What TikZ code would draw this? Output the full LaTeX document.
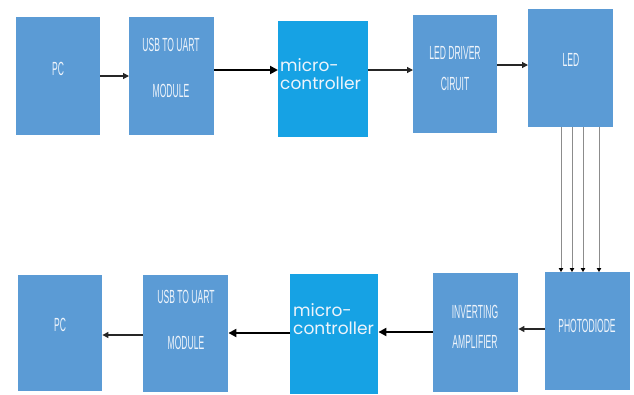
\documentclass[tikz,border=0pt]{standalone}
\usepackage{fontspec}
\usetikzlibrary{arrows.meta}
\newfontfamily\condfont[FakeStretch=0.45]{Liberation Sans}
\newfontfamily\mcfont{Poppins}
\definecolor{boxblue}{HTML}{5B9BD5}
\definecolor{mcblue}{HTML}{16A2E4}
\definecolor{txtwhite}{HTML}{EEF4FB}
\begin{document}
\begin{tikzpicture}[x=1pt,y=-1pt,
  blk/.style={fill=boxblue, draw=none, inner sep=0pt, anchor=north west},
  mcblk/.style={fill=mcblue, draw=none, inner sep=0pt, anchor=north west},
  lbl/.style={text=txtwhite, inner sep=0pt, font=\condfont\fontsize{19}{19}\selectfont},
  mclbl/.style={text=txtwhite, inner sep=0pt, anchor=west, align=left, font=\mcfont\fontsize{17}{18}\selectfont},
  thinarr/.style={draw=black!85, line width=1.2pt, -{Triangle[length=6pt,width=6pt]}},
  thickarr/.style={draw=black, line width=2.4pt, -{Triangle[length=8pt,width=8pt]}},
  beam/.style={draw=black!45, line width=0.9pt, -{Triangle[length=4pt,width=4.5pt,color=black]}}
]
\useasboundingbox (0,0) rectangle (634,394);
% top row boxes
\node[blk, minimum width=84pt, minimum height=118pt] (pc1) at (16,17) {};
\node[blk, minimum width=85pt, minimum height=118pt] (usb1) at (129,17) {};
\node[mcblk, minimum width=90pt, minimum height=116pt] (mc1) at (278,21) {};
\node[blk, minimum width=84pt, minimum height=118pt] (drv) at (413,15) {};
\node[blk, minimum width=85pt, minimum height=118pt] (led) at (528,9) {};
% bottom row boxes
\node[blk, minimum width=84pt, minimum height=116pt] (pc2) at (18,275) {};
\node[blk, minimum width=85pt, minimum height=117pt] (usb2) at (143,275) {};
\node[mcblk, minimum width=88pt, minimum height=120pt] (mc2) at (290,274) {};
\node[blk, minimum width=85pt, minimum height=119pt] (inv) at (433,273) {};
\node[blk, minimum width=85pt, minimum height=118pt] (pd) at (545,272) {};
% labels
\node[lbl] (tpc1) at (58,69) {PC};
\node[lbl] (tusb1a) at (171,45) {USB TO UART};
\node[lbl] (tusb1b) at (171,91) {MODULE};
\node[mclbl] (tmc1) at (280,74) {micro-\\controller};
\node[lbl] (tdrva) at (455,53) {LED DRIVER};
\node[lbl] (tdrvb) at (455,84) {CIRUIT};
\node[lbl] (tled) at (571,60) {LED};
\node[lbl] (tpc2) at (60,325) {PC};
\node[lbl] (tusb2a) at (186,297) {USB TO UART};
\node[lbl] (tusb2b) at (186,343) {MODULE};
\node[mclbl] (tmc2) at (293,319) {micro-\\controller};
\node[lbl] (tinva) at (475,312) {INVERTING};
\node[lbl] (tinvb) at (475,342) {AMPLIFIER};
\node[lbl] (tpd) at (587,326) {PHOTODIODE};
% top arrows
\draw[thinarr] (pc1.east |- 0,76) -- (usb1.west |- 0,76);
\draw[thickarr] (usb1.east |- 0,70) -- (mc1.west |- 0,70);
\draw[thinarr] (mc1.east |- 0,70) -- (drv.west |- 0,70);
\draw[thinarr] (drv.east |- 0,65) -- (led.west |- 0,65);
% light beams
\foreach \xx in {561,572,583,599}
  \draw[beam] (led.south -| \xx,0) -- (pd.north -| \xx,0);
% bottom arrows
\draw[thinarr] (pd.west |- 0,329) -- (inv.east |- 0,329);
\draw[thickarr] (inv.west |- 0,332) -- (mc2.east |- 0,332);
\draw[thickarr] (mc2.west |- 0,333) -- (usb2.east |- 0,333);
\draw[thinarr] (usb2.west |- 0,335) -- (pc2.east |- 0,335);
\end{tikzpicture}
\end{document}
